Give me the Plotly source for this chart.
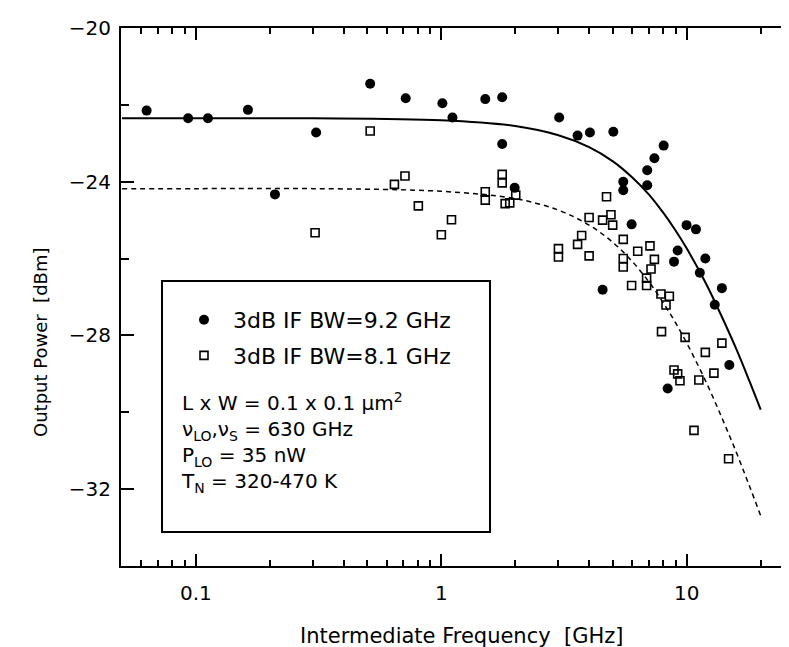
import plotly.graph_objects as go

# ---- data ----
f_92 = [0.063, 0.093, 0.112, 0.163, 0.21, 0.309, 0.513, 0.716, 1.01, 1.11,
        1.51, 1.77, 1.77, 1.99, 3.02, 3.59, 4.03, 4.54, 5.02, 5.51,
        5.51, 5.96, 6.90, 6.90, 7.38, 8.05, 8.36, 8.87, 9.18, 9.98,
        10.9, 11.3, 11.9, 13.0, 13.9, 14.9]
p_92 = [-22.15, -22.35, -22.35, -22.13, -24.33, -22.72, -21.45, -21.83, -21.96, -22.33,
        -21.85, -21.80, -23.02, -24.16, -22.33, -22.80, -22.72, -26.81, -22.70, -24.0,
        -24.22, -25.11, -23.70, -24.09, -23.39, -23.06, -29.38, -26.08, -25.79, -25.13,
        -25.24, -26.37, -26.0, -27.2, -26.77, -28.77]

f_81 = [0.306, 0.513, 0.644, 0.711, 0.806, 1.0, 1.10, 1.51, 1.51, 1.77,
        1.77, 1.82, 1.90, 2.01, 3.0, 3.0, 3.59, 3.73, 4.0, 4.0,
        4.54, 4.71, 4.91, 4.99, 5.51, 5.51, 5.51, 5.96, 6.31, 6.86,
        6.86, 7.08, 7.15, 7.38, 7.85, 7.89, 8.23, 8.49, 8.87, 9.18,
        9.38, 9.84, 10.7, 11.2, 11.9, 12.9, 13.9, 14.8]
p_81 = [-25.33, -22.68, -24.07, -23.85, -24.63, -25.38, -24.99, -24.26, -24.48, -23.81,
        -24.03, -24.57, -24.55, -24.35, -25.74, -25.96, -25.63, -25.40, -24.93, -25.93,
        -25.0, -24.39, -24.86, -25.13, -25.5, -26.0, -26.22, -26.70, -25.81, -26.51,
        -26.70, -25.67, -26.27, -26.02, -26.92, -27.90, -27.21, -26.98, -28.9, -29.0,
        -29.18, -28.05, -30.47, -29.16, -28.44, -28.98, -28.2, -31.21]

curve_f = [0.05, 0.1, 0.3, 1, 2, 3, 4, 5, 6, 7, 8, 9, 10, 12, 14, 16, 18, 20]
curve_solid = [-22.35, -22.35, -22.35, -22.40, -22.55, -22.79, -23.10, -23.47, -23.89,
               -24.33, -24.80, -25.27, -25.74, -26.66, -27.56, -28.39, -29.19, -29.93]
curve_dashed = [-24.18, -24.18, -24.18, -24.25, -24.44, -24.74, -25.13, -25.58, -26.08,
                -26.60, -27.14, -27.67, -28.20, -29.22, -30.19, -31.08, -31.92, -32.69]

x_tickvals = [0.1, 1, 10]
x_ticktext = ["0.1", "1", "10"]
y_tickvals = [-32, -28, -24, -20]

legend_names = ["3dB IF BW=9.2 GHz", "3dB IF BW=8.1 GHz"]
info_lines = ["L x W = 0.1 x 0.1 \u03bcm<sup>2</sup>",
              "\u03bd<sub>LO</sub>,\u03bd<sub>S</sub> = 630 GHz",
              "P<sub>LO</sub> = 35 nW",
              "T<sub>N</sub> = 320-470 K"]

FONT = "DejaVu Sans, Liberation Sans, Arial, sans-serif"
W, H = 789, 647
L, R, T, B = 113, 0, 20, 89
pw, ph = W - L - R, H - T - B

fig = go.Figure()
fig.add_trace(go.Scatter(x=curve_f, y=curve_solid, mode="lines", line_shape="spline",
                         line=dict(color="black", width=2), showlegend=False, hoverinfo="skip"))
fig.add_trace(go.Scatter(x=curve_f, y=curve_dashed, mode="lines", line_shape="spline",
                         line=dict(color="black", width=1.5, dash="5px,4px"),
                         showlegend=False, hoverinfo="skip"))
fig.add_trace(go.Scatter(x=f_92, y=p_92, mode="markers", name=legend_names[0],
                         legendgroup="a",
                         marker=dict(symbol="circle", size=10, color="black",
                                     line=dict(width=0))))
fig.add_trace(go.Scatter(x=f_81, y=p_81, mode="markers", name=legend_names[1],
                         legendgroup="b",
                         marker=dict(symbol="square-open", size=8, color="black",
                                     line=dict(width=1.6, color="black"))))


def px_x(p):
    return (p - L) / pw


def px_y(p):
    return (H - B - p) / ph


fig.add_shape(type="rect", xref="paper", yref="paper",
              x0=px_x(154), x1=px_x(482), y0=px_y(524), y1=px_y(273),
              line=dict(color="black", width=2), fillcolor="rgba(0,0,0,0)")

fig.add_annotation(text="<br>".join(info_lines), xref="paper", yref="paper",
                   x=px_x(171), y=px_y(434), xanchor="left", yanchor="middle",
                   align="left", showarrow=False,
                   font=dict(size=20, color="black", family=FONT))

fig.add_annotation(text="Output Power  [dBm]", xref="paper", yref="paper",
                   x=px_x(33), y=px_y(335), textangle=-90, xanchor="center", yanchor="middle",
                   showarrow=False, font=dict(size=18, color="black", family=FONT))
fig.add_annotation(text="Intermediate Frequency  [GHz]", xref="paper", yref="paper",
                   x=px_x(453), y=px_y(628), xanchor="center", yanchor="middle",
                   showarrow=False, font=dict(size=21, color="black", family=FONT))

fig.update_layout(
    width=W, height=H,
    margin=dict(l=L, r=R, t=T, b=B, pad=0),
    paper_bgcolor="white", plot_bgcolor="white",
    font=dict(family=FONT, size=20, color="black"),
    showlegend=True,
    legend=dict(x=px_x(167), y=px_y(291), xanchor="left", yanchor="top",
                bgcolor="rgba(0,0,0,0)", borderwidth=0, tracegroupgap=4,
                itemwidth=48, itemsizing="trace",
                font=dict(size=22, family=FONT, color="black")),
)
fig.update_xaxes(type="log", range=[-1.305, 1.449],
                 tickvals=x_tickvals, ticktext=x_ticktext,
                 ticks="inside", ticklen=12, tickwidth=2, tickcolor="black",
                 showline=True, linecolor="black", linewidth=2, mirror="ticks",
                 showgrid=False, zeroline=False, ticklabelstandoff=8,
                 minor=dict(ticks="inside", ticklen=6, tickwidth=1.5, tickcolor="black",
                            dtick="D1", showgrid=False),
                 tickfont=dict(size=20, family=FONT, color="black"))
fig.update_yaxes(range=[-34, -20], tickvals=y_tickvals,
                 ticks="inside", ticklen=13, tickwidth=2, tickcolor="black",
                 showline=True, linecolor="black", linewidth=2, mirror=False,
                 showgrid=False, zeroline=False, ticklabelstandoff=4,
                 minor=dict(ticks="inside", ticklen=8, tickwidth=2, tickcolor="black",
                            dtick=2, tick0=-20, showgrid=False),
                 tickfont=dict(size=20, family=FONT, color="black"))

fig.write_html("out.html")
